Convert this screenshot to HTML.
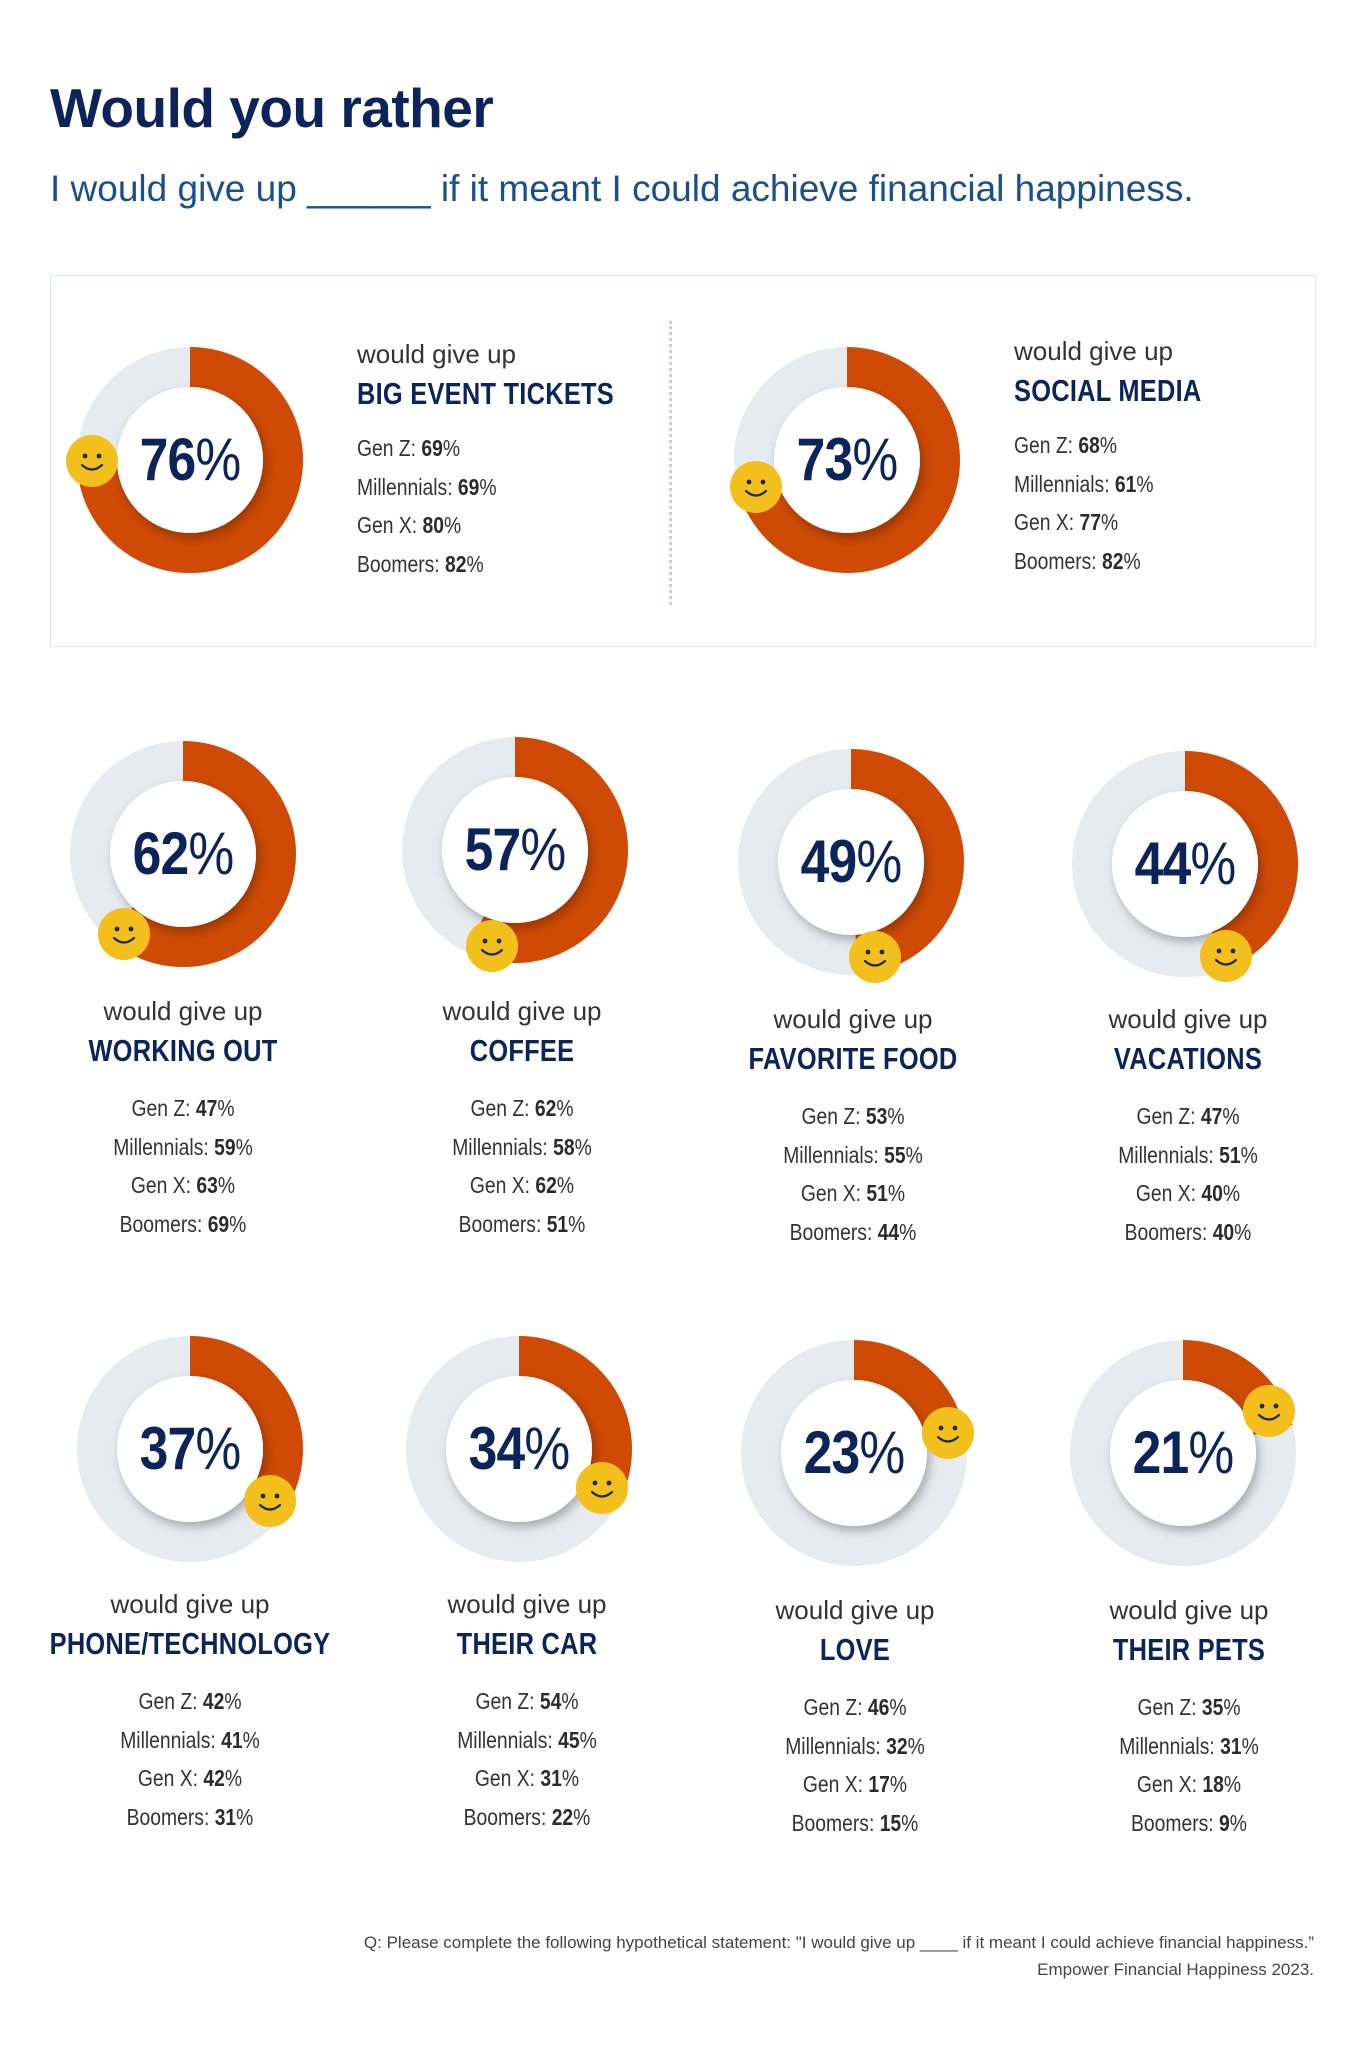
<!DOCTYPE html>
<html><head><meta charset="utf-8"><style>
*{margin:0;padding:0;box-sizing:border-box}
body{width:1366px;height:2057px;background:#fff;position:relative;font-family:"Liberation Sans",sans-serif;overflow:hidden}
h1{position:absolute;left:50px;top:76px;font-size:55px;font-weight:bold;color:#0c2459;letter-spacing:-0.5px}
.sub{position:absolute;left:50px;top:168px;font-size:37px;color:#1a4f8b;white-space:nowrap}
.box{position:absolute;left:50px;top:275px;width:1266px;height:372px;border:1.5px solid #dde6ee}
.div{position:absolute;left:669px;top:321px;height:284px;border-left:3px dotted #c9cfd6}
.d{position:absolute;width:260px;height:260px}
.d svg{position:absolute;left:0;top:0;overflow:visible}
.pct{position:absolute;left:0;top:96px;width:260px;text-align:center;font-size:60px;font-weight:bold;color:#0c2459;transform:scaleX(0.86);letter-spacing:-1px;line-height:68px}
.pct span{font-weight:normal}
.lab{position:absolute;width:360px;text-align:center;color:#333}
.lab.l{text-align:left}
.wg{font-size:26px;color:#333;height:40px;line-height:40px}
.tt{font-size:31px;font-weight:bold;color:#0c2459;height:40px;line-height:40px;transform:scaleX(0.82);white-space:nowrap;letter-spacing:0.3px}
.lab.l .tt{transform-origin:left center}
.r{font-size:23px;height:38.5px;line-height:38.5px;transform:scaleX(0.84);white-space:nowrap;color:#333}
.lab.l .r{transform-origin:left center}
.r b{color:#2b2b2b}
.foot{position:absolute;right:52px;font-size:17px;color:#444;text-align:right;white-space:nowrap}
</style></head><body>
<h1>Would you rather</h1>
<div class="sub">I would give up ______ if it meant I could achieve financial happiness.</div>
<div class="box"></div>
<div class="div"></div>

<svg width="0" height="0" style="position:absolute"><defs>
<filter id="sh" x="-30%" y="-30%" width="160%" height="160%"><feDropShadow dx="3" dy="5" stdDeviation="5" flood-color="#000" flood-opacity="0.28"/></filter>
<g id="sm"><circle r="26" fill="#f2bf1d"/><circle cx="-7" cy="-5" r="2.4" fill="#1c2a4a"/><circle cx="7" cy="-5" r="2.4" fill="#1c2a4a"/><path d="M-10 4 Q0 13 10 4" fill="none" stroke="#1c2a4a" stroke-width="2.2" stroke-linecap="round"/></g>
</defs></svg>

<div class="d" style="left:60px;top:330px"><svg width="260" height="260"><circle cx="130" cy="130" r="93" fill="none" stroke="#e6ebf0" stroke-width="40"/><circle cx="130" cy="130" r="93" fill="none" stroke="#cf4a05" stroke-width="40" stroke-dasharray="444.1 600" transform="rotate(-90 130 130)"/><circle cx="130" cy="130" r="73" fill="#fff" filter="url(#sh)"/><use href="#sm" x="32" y="131"/></svg><div class="pct">76<span>%</span></div></div>
<div class="d" style="left:717px;top:330px"><svg width="260" height="260"><circle cx="130" cy="130" r="93" fill="none" stroke="#e6ebf0" stroke-width="40"/><circle cx="130" cy="130" r="93" fill="none" stroke="#cf4a05" stroke-width="40" stroke-dasharray="426.5 600" transform="rotate(-90 130 130)"/><circle cx="130" cy="130" r="73" fill="#fff" filter="url(#sh)"/><use href="#sm" x="39" y="157"/></svg><div class="pct">73<span>%</span></div></div>

<div class="lab l" style="left:357px;top:334px"><div class="wg">would give up</div><div class="tt">BIG EVENT TICKETS</div><div class="r" style="margin-top:15px">Gen Z: <b>69</b>%</div><div class="r">Millennials: <b>69</b>%</div><div class="r">Gen X: <b>80</b>%</div><div class="r">Boomers: <b>82</b>%</div></div>
<div class="lab l" style="left:1014px;top:331px"><div class="wg">would give up</div><div class="tt">SOCIAL MEDIA</div><div class="r" style="margin-top:15px">Gen Z: <b>68</b>%</div><div class="r">Millennials: <b>61</b>%</div><div class="r">Gen X: <b>77</b>%</div><div class="r">Boomers: <b>82</b>%</div></div>

<div class="d" style="left:53px;top:724px"><svg width="260" height="260"><circle cx="130" cy="130" r="93" fill="none" stroke="#e6ebf0" stroke-width="40"/><circle cx="130" cy="130" r="93" fill="none" stroke="#cf4a05" stroke-width="40" stroke-dasharray="362.3 600" transform="rotate(-90 130 130)"/><circle cx="130" cy="130" r="73" fill="#fff" filter="url(#sh)"/><use href="#sm" x="71" y="210"/></svg><div class="pct">62<span>%</span></div></div>
<div class="d" style="left:385px;top:720px"><svg width="260" height="260"><circle cx="130" cy="130" r="93" fill="none" stroke="#e6ebf0" stroke-width="40"/><circle cx="130" cy="130" r="93" fill="none" stroke="#cf4a05" stroke-width="40" stroke-dasharray="333.1 600" transform="rotate(-90 130 130)"/><circle cx="130" cy="130" r="73" fill="#fff" filter="url(#sh)"/><use href="#sm" x="107" y="226"/></svg><div class="pct">57<span>%</span></div></div>
<div class="d" style="left:721px;top:732px"><svg width="260" height="260"><circle cx="130" cy="130" r="93" fill="none" stroke="#e6ebf0" stroke-width="40"/><circle cx="130" cy="130" r="93" fill="none" stroke="#cf4a05" stroke-width="40" stroke-dasharray="286.3 600" transform="rotate(-90 130 130)"/><circle cx="130" cy="130" r="73" fill="#fff" filter="url(#sh)"/><use href="#sm" x="154" y="225"/></svg><div class="pct">49<span>%</span></div></div>
<div class="d" style="left:1055px;top:734px"><svg width="260" height="260"><circle cx="130" cy="130" r="93" fill="none" stroke="#e6ebf0" stroke-width="40"/><circle cx="130" cy="130" r="93" fill="none" stroke="#cf4a05" stroke-width="40" stroke-dasharray="257.1 600" transform="rotate(-90 130 130)"/><circle cx="130" cy="130" r="73" fill="#fff" filter="url(#sh)"/><use href="#sm" x="171" y="222"/></svg><div class="pct">44<span>%</span></div></div>

<div class="lab" style="left:3px;top:991px"><div class="wg">would give up</div><div class="tt">WORKING OUT</div><div class="r" style="margin-top:18px">Gen Z: <b>47</b>%</div><div class="r">Millennials: <b>59</b>%</div><div class="r">Gen X: <b>63</b>%</div><div class="r">Boomers: <b>69</b>%</div></div>
<div class="lab" style="left:342px;top:991px"><div class="wg">would give up</div><div class="tt">COFFEE</div><div class="r" style="margin-top:18px">Gen Z: <b>62</b>%</div><div class="r">Millennials: <b>58</b>%</div><div class="r">Gen X: <b>62</b>%</div><div class="r">Boomers: <b>51</b>%</div></div>
<div class="lab" style="left:673px;top:999px"><div class="wg">would give up</div><div class="tt">FAVORITE FOOD</div><div class="r" style="margin-top:18px">Gen Z: <b>53</b>%</div><div class="r">Millennials: <b>55</b>%</div><div class="r">Gen X: <b>51</b>%</div><div class="r">Boomers: <b>44</b>%</div></div>
<div class="lab" style="left:1008px;top:999px"><div class="wg">would give up</div><div class="tt">VACATIONS</div><div class="r" style="margin-top:18px">Gen Z: <b>47</b>%</div><div class="r">Millennials: <b>51</b>%</div><div class="r">Gen X: <b>40</b>%</div><div class="r">Boomers: <b>40</b>%</div></div>

<div class="d" style="left:60px;top:1319px"><svg width="260" height="260"><circle cx="130" cy="130" r="93" fill="none" stroke="#e6ebf0" stroke-width="40"/><circle cx="130" cy="130" r="93" fill="none" stroke="#cf4a05" stroke-width="40" stroke-dasharray="216.2 600" transform="rotate(-90 130 130)"/><circle cx="130" cy="130" r="73" fill="#fff" filter="url(#sh)"/><use href="#sm" x="210" y="182"/></svg><div class="pct">37<span>%</span></div></div>
<div class="d" style="left:389px;top:1319px"><svg width="260" height="260"><circle cx="130" cy="130" r="93" fill="none" stroke="#e6ebf0" stroke-width="40"/><circle cx="130" cy="130" r="93" fill="none" stroke="#cf4a05" stroke-width="40" stroke-dasharray="198.7 600" transform="rotate(-90 130 130)"/><circle cx="130" cy="130" r="73" fill="#fff" filter="url(#sh)"/><use href="#sm" x="213" y="169"/></svg><div class="pct">34<span>%</span></div></div>
<div class="d" style="left:724px;top:1323px"><svg width="260" height="260"><circle cx="130" cy="130" r="93" fill="none" stroke="#e6ebf0" stroke-width="40"/><circle cx="130" cy="130" r="93" fill="none" stroke="#cf4a05" stroke-width="40" stroke-dasharray="134.4 600" transform="rotate(-90 130 130)"/><circle cx="130" cy="130" r="73" fill="#fff" filter="url(#sh)"/><use href="#sm" x="224" y="110"/></svg><div class="pct">23<span>%</span></div></div>
<div class="d" style="left:1053px;top:1323px"><svg width="260" height="260"><circle cx="130" cy="130" r="93" fill="none" stroke="#e6ebf0" stroke-width="40"/><circle cx="130" cy="130" r="93" fill="none" stroke="#cf4a05" stroke-width="40" stroke-dasharray="122.7 600" transform="rotate(-90 130 130)"/><circle cx="130" cy="130" r="73" fill="#fff" filter="url(#sh)"/><use href="#sm" x="216" y="88"/></svg><div class="pct">21<span>%</span></div></div>

<div class="lab" style="left:10px;top:1584px"><div class="wg">would give up</div><div class="tt">PHONE/TECHNOLOGY</div><div class="r" style="margin-top:18px">Gen Z: <b>42</b>%</div><div class="r">Millennials: <b>41</b>%</div><div class="r">Gen X: <b>42</b>%</div><div class="r">Boomers: <b>31</b>%</div></div>
<div class="lab" style="left:347px;top:1584px"><div class="wg">would give up</div><div class="tt">THEIR CAR</div><div class="r" style="margin-top:18px">Gen Z: <b>54</b>%</div><div class="r">Millennials: <b>45</b>%</div><div class="r">Gen X: <b>31</b>%</div><div class="r">Boomers: <b>22</b>%</div></div>
<div class="lab" style="left:675px;top:1590px"><div class="wg">would give up</div><div class="tt">LOVE</div><div class="r" style="margin-top:18px">Gen Z: <b>46</b>%</div><div class="r">Millennials: <b>32</b>%</div><div class="r">Gen X: <b>17</b>%</div><div class="r">Boomers: <b>15</b>%</div></div>
<div class="lab" style="left:1009px;top:1590px"><div class="wg">would give up</div><div class="tt">THEIR PETS</div><div class="r" style="margin-top:18px">Gen Z: <b>35</b>%</div><div class="r">Millennials: <b>31</b>%</div><div class="r">Gen X: <b>18</b>%</div><div class="r">Boomers: <b>9</b>%</div></div>

<div class="foot" style="top:1933px">Q: Please complete the following hypothetical statement: "I would give up ____ if it meant I could achieve financial happiness.”</div>
<div class="foot" style="top:1960px">Empower Financial Happiness 2023.</div>
</body></html>
